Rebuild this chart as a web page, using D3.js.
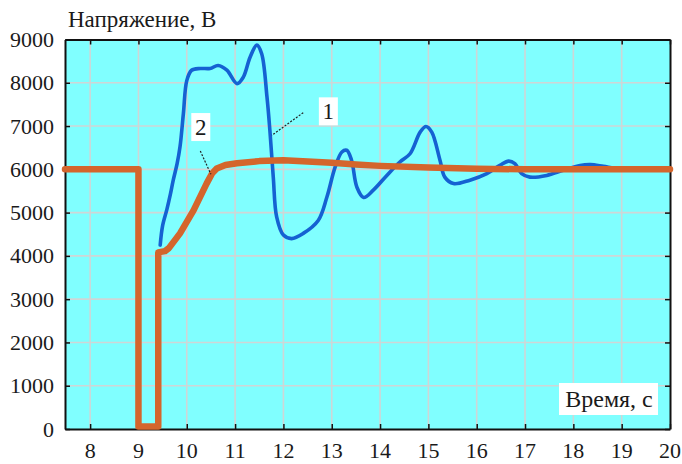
<!DOCTYPE html>
<html>
<head>
<meta charset="utf-8">
<script src="https://cdn.jsdelivr.net/npm/d3@7"></script>
<style>
  html, body { margin: 0; padding: 0; background: #ffffff; }
  svg { display: block; }
</style>
</head>
<body>
<svg id="chart" width="682" height="464"></svg>
<script>
// Ticks
const xTicks = [8, 9, 10, 11, 12, 13, 14, 15, 16, 17, 18, 19, 20];
const yTicks = [0, 1000, 2000, 3000, 4000, 5000, 6000, 7000, 8000, 9000];

// Curve 1: voltage response (time, s)
const time1 = [9.45, 9.50, 9.59, 9.66, 9.72, 9.80, 9.86, 9.93, 10.0, 10.10, 10.28, 10.48, 10.65, 10.83, 11.04, 11.17, 11.31, 11.45, 11.55, 11.66, 11.72, 11.79, 11.86, 12.0, 12.17, 12.41, 12.72, 12.90, 13.07, 13.21, 13.31, 13.41, 13.52, 13.66, 13.86, 14.14, 14.41, 14.62, 14.83, 14.95, 15.07, 15.24, 15.34, 15.52, 15.86, 16.21, 16.48, 16.66, 16.79, 16.93, 17.10, 17.45, 17.79, 18.14, 18.35, 18.62, 18.90, 19.3, 20.0];
const volt1 = [4250, 4700, 5080, 5420, 5750, 6130, 6520, 7290, 8050, 8290, 8330, 8330, 8400, 8290, 7980, 8130, 8590, 8870, 8670, 7670, 6900, 5820, 4900, 4480, 4400, 4520, 4820, 5360, 6050, 6400, 6440, 6210, 5590, 5350, 5520, 5860, 6170, 6360, 6860, 6990, 6860, 6210, 5820, 5670, 5750, 5900, 6090, 6190, 6130, 5900, 5820, 5860, 5980, 6090, 6110, 6070, 6020, 6000, 6000];

// Curve 2: voltage response (time, s)
const time2 = [7.48, 9.0, 9.0, 9.41, 9.41, 9.55, 9.63, 9.86, 10.14, 10.41, 10.52, 10.62, 10.8, 11.04, 11.5, 12.0, 12.5, 13.0, 13.5, 14.0, 15.0, 16.0, 17.0, 20.0];
const volt2 = [6000, 6000, 60, 60, 4080, 4110, 4180, 4520, 5050, 5670, 5900, 6020, 6100, 6140, 6190, 6210, 6180, 6150, 6110, 6080, 6040, 6015, 6000, 6000];

// Curve labels: box centre and leader line ends (time, volt)
const labelText = ["1", "2"];
const labelPos = [[12.93, 7340], [10.29, 6977]];
const leaderFrom = [[12.41, 7310], [10.28, 6423]];
const leaderTo = [[11.76, 6785], [10.50, 5885]];

const FONT = "'Liberation Serif', 'Times New Roman', serif";

const svg = d3.select("#chart");
const L = 65, R = 670, T = 39.5, B = 429;

const x = d3.scaleLinear().domain([7.48, 20]).range([L, R]);
const y = d3.scaleLinear().domain([0, 9000]).range([B, T]);

// plot background
svg.append("rect")
  .attr("x", L).attr("y", T).attr("width", R - L).attr("height", B - T)
  .attr("fill", "#80ffff");

// grid
const grid = svg.append("g").attr("stroke", "#cfd6d6").attr("stroke-width", 1.6);
grid.selectAll("line.gx").data(xTicks.filter(d => d < 20)).join("line")
  .attr("x1", d => x(d)).attr("x2", d => x(d)).attr("y1", T).attr("y2", B);
grid.selectAll("line.gy").data(yTicks.filter(d => d > 0 && d < 9000)).join("line")
  .attr("x1", L).attr("x2", R).attr("y1", d => y(d)).attr("y2", d => y(d));

// axes with inward ticks on all four sides
const tickLen = 5;
const axB = svg.append("g").attr("transform", `translate(0,${B})`)
  .call(d3.axisBottom(x).tickValues(xTicks).tickSizeInner(-tickLen).tickSizeOuter(0).tickFormat(""));
const axT = svg.append("g").attr("transform", `translate(0,${T})`)
  .call(d3.axisTop(x).tickValues(xTicks).tickSizeInner(-tickLen).tickSizeOuter(0).tickFormat(""));
const axL = svg.append("g").attr("transform", `translate(${L},0)`)
  .call(d3.axisLeft(y).tickValues(yTicks).tickSizeInner(-tickLen).tickSizeOuter(0).tickFormat(""));
const axR = svg.append("g").attr("transform", `translate(${R},0)`)
  .call(d3.axisRight(y).tickValues(yTicks).tickSizeInner(-tickLen).tickSizeOuter(0).tickFormat(""));
[axB, axT, axL, axR].forEach(a => {
  a.select(".domain").attr("stroke", "#111").attr("stroke-width", 2);
  a.selectAll(".tick line").attr("stroke", "#111").attr("stroke-width", 1.5);
});

const txt = (sel) => sel.style("font-family", FONT).attr("fill", "#1a1a1a");

// tick labels
svg.append("g").selectAll("text").data(xTicks).join("text")
  .call(txt)
  .attr("x", d => x(d)).attr("y", 458)
  .attr("text-anchor", "middle").attr("font-size", 22)
  .text(d => d);
svg.append("g").selectAll("text").data(yTicks).join("text")
  .call(txt)
  .attr("x", 54).attr("y", d => y(d) + 7.5)
  .attr("text-anchor", "end").attr("font-size", 22)
  .text(d => d);

// curves
const line = d3.line().x(d => x(d[0])).y(d => y(d[1]));
const pts1 = time1.map((t, i) => [t, volt1[i]]);
const pts2 = time2.map((t, i) => [t, volt2[i]]);

svg.append("path")
  .attr("d", line.curve(d3.curveCatmullRom.alpha(0.5))(pts1))
  .attr("fill", "none").attr("stroke", "#1562d2").attr("stroke-width", 3.6)
  .attr("stroke-linejoin", "round").attr("stroke-linecap", "round");

svg.append("path")
  .attr("d", line.curve(d3.curveLinear)(pts2))
  .attr("fill", "none").attr("stroke", "#d4652c").attr("stroke-width", 6.5)
  .attr("stroke-linejoin", "round").attr("stroke-linecap", "round");

// leader lines and numbered labels
svg.append("g").selectAll("line").data(leaderFrom).join("line")
  .attr("x1", d => x(d[0])).attr("y1", d => y(d[1]))
  .attr("x2", (d, i) => x(leaderTo[i][0])).attr("y2", (d, i) => y(leaderTo[i][1]))
  .attr("stroke", "#222").attr("stroke-width", 1.2).attr("stroke-dasharray", "2,1.5");

const lab = svg.append("g").selectAll("g").data(labelText).join("g")
  .attr("transform", (d, i) => `translate(${x(labelPos[i][0])},${y(labelPos[i][1])})`);
lab.append("rect").attr("x", -9.5).attr("y", -14).attr("width", 19).attr("height", 28).attr("fill", "#ffffff");
lab.append("text").call(txt).attr("text-anchor", "middle").attr("y", 8).attr("font-size", 23).text(d => d);

// axis titles
svg.append("text").call(txt).attr("x", 68).attr("y", 27).attr("font-size", 23).text("Напряжение, В");

const xt = svg.append("g").attr("transform", `translate(${R - 61},${B - 30})`);
xt.append("rect").attr("x", -50).attr("y", -16).attr("width", 99).attr("height", 32).attr("fill", "#ffffff");
xt.append("text").call(txt).attr("text-anchor", "middle").attr("y", 8).attr("font-size", 24).text("Время, с");
</script>
</body>
</html>
